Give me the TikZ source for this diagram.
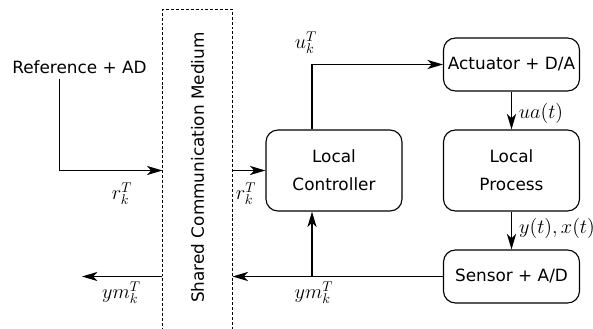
\documentclass[tikz,border=0pt]{standalone}
\usepackage{fontspec}
\setmainfont{DejaVu Sans}
\usetikzlibrary{arrows.meta,positioning}

\tikzset{
  block/.style={draw, rounded corners=0.3cm, align=center, inner sep=2pt,
    minimum width=3.4cm, minimum height=1.325cm},
  tallblock/.style={block, minimum height=2.025cm},
  medium/.style={dash pattern=on 2.1pt off 1.4pt, line width=0.5pt},
  sig/.style={inner sep=1pt, font=\fontsize{14}{16}\selectfont}
}

\begin{document}
\begin{tikzpicture}[x=0.025cm, y=-0.025cm, line width=0.8pt,
    font=\fontsize{12}{20}\selectfont,
    >={Stealth[length=11pt,width=6.5pt,inset=3pt]}]
    \useasboundingbox (0,0) rectangle (593,329);

    % plant side
    \node[tallblock] (ctrl) at (334,170.5) {Local\\Controller};
    \node[block] (act) at (511.5,64.5) {Actuator + D/A};
    \node[tallblock] (proc) at (511.5,170.5) {Local\\Process};
    \node[block] (sens) at (511.5,276.5) {Sensor + A/D};

    % network
    \node[minimum width=1.725cm, minimum height=8cm, inner sep=0pt] (net) at (197.5,170) {};
    \draw[medium] (net.south west) -- (net.north west) -- (net.north east) -- (net.south east);
    \node[rotate=90] (nettxt) at (197.5,167.5) {Shared Communication Medium};

    \node (ref) at (79.5,67) {Reference + AD};

    \coordinate (utap) at ([xshift=-0.55cm]ctrl.north);
    \coordinate (ytap) at ([xshift=-0.55cm]ctrl.south);
    \coordinate (yout) at (82,276.5);

    \draw[->] ([xshift=-0.49cm]ref.south) |- (net.west |- ctrl.west);
    \draw[->] (net.east |- ctrl.west) -- (ctrl.west);
    \draw[->] (utap) |- (act.west);
    \draw[->] (act.south) -- (proc.north);
    \draw[->] (proc.south) -- (sens.north);
    \draw[->] (sens.west) -- (sens.west -| net.east);
    \draw[->] (ytap |- sens.west) -- (ytap);
    \draw[->] (net.west |- sens.west) -- (yout);

    \node[sig] (rin) at (122,194) {$r_k^T$};
    \node[sig] (rout) at (246,194) {$r_k^T$};
    \node[sig] (uk) at (306,43) {$u_k^T$};
    \node[sig] (ua) at (541,113) {$ua(t)$};
    \node[sig] (yx) at (557,228) {$y(t),x(t)$};
    \node[sig] (ymin) at (314,293) {$ym_k^T$};
    \node[sig] (ymout) at (121.5,293) {$ym_k^T$};
\end{tikzpicture}
\end{document}
